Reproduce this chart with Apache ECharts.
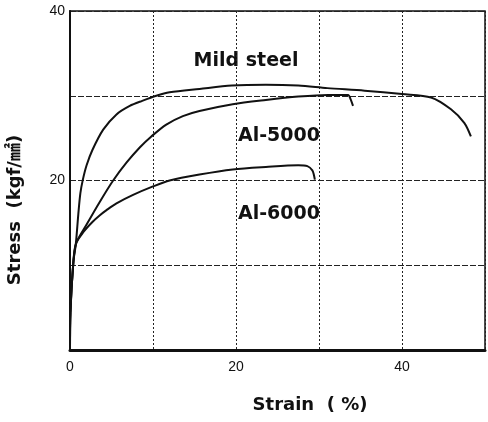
<!DOCTYPE html>
<html>
<head>
<meta charset="utf-8">
<script src="https://cdn.jsdelivr.net/npm/echarts@6/dist/echarts.min.js"></script>
<style>
  html, body { margin: 0; padding: 0; background: #fff; }
  #chart { width: 488px; height: 422px; }
</style>
</head>
<body>
<div id="chart"></div>
<script>
// strain (%) vs stress (kgf/mm2)
const mildSteel = [
  [0, 0], [0.05, 4.4], [0.4, 10.3], [0.7, 12.5], [1.0, 16.0], [1.25, 18.5],
  [1.55, 20.1], [2.0, 21.8], [2.7, 23.6], [4.0, 26.0], [5.6, 27.8], [7.2, 28.8],
  [8.7, 29.4], [10.4, 30.0], [12.0, 30.4], [15.6, 30.8], [19.5, 31.2],
  [23.6, 31.3], [27.5, 31.2], [31.0, 30.9], [35.5, 30.6], [40.0, 30.2],
  [43.5, 29.8], [45.9, 28.4], [47.5, 26.8], [48.3, 25.2]
];
const al5000 = [
  [0, 0], [0.05, 4.4], [0.4, 10.3], [0.7, 12.5], [2.0, 14.8], [3.6, 17.5],
  [5.2, 20.0], [6.8, 22.1], [8.4, 23.9], [9.8, 25.2], [11.6, 26.6],
  [13.6, 27.6], [15.6, 28.2], [19.6, 29.0], [23.6, 29.5], [27.5, 29.9],
  [31.1, 30.1], [33.5, 30.1], [33.8, 29.6], [34.1, 28.8]
];
const al6000 = [
  [0, 0], [0.05, 4.4], [0.4, 10.3], [0.75, 12.6], [1.6, 13.9], [2.7, 15.1],
  [3.6, 15.9], [4.4, 16.5], [5.6, 17.3], [7.6, 18.3], [10.0, 19.3],
  [12.0, 20.0], [15.6, 20.7], [19.6, 21.3], [23.6, 21.6], [27.5, 21.8],
  [28.6, 21.7], [29.2, 21.2], [29.4, 20.6], [29.5, 20.1]
];
const xTickLabels = [0, 20, 40];
const yTickLabels = [20, 40];
const seriesNames = ['Mild steel', 'Al-5000', 'Al-6000'];

const chart = echarts.init(document.getElementById('chart'));

function curve(name, data) {
  return {
    name: name,
    type: 'line',
    data: data,
    smooth: 0.3,
    showSymbol: false,
    lineStyle: { color: '#111', width: 2 }
  };
}

const labelFont = { fontFamily: 'DejaVu Sans', fontWeight: 'bold', fontSize: 19, fill: '#111' };

chart.setOption({
  backgroundColor: '#fff',
  animation: false,
  grid: {
    left: 70, right: 1, top: 11, bottom: 72,
    show: true, borderColor: '#111', borderWidth: 1.5
  },
  xAxis: {
    type: 'value',
    min: 0, max: 50, interval: 10,
    axisLine: { lineStyle: { color: '#111', width: 3 } },
    axisTick: { show: false },
    axisLabel: {
      color: '#111', fontFamily: 'Liberation Sans', fontSize: 14, margin: 10,
      formatter: v => (xTickLabels.indexOf(v) >= 0 ? String(v) : '')
    },
    splitLine: { lineStyle: { color: '#222', width: 1, type: [2, 2] } }
  },
  yAxis: {
    type: 'value',
    min: 0, max: 40, interval: 10,
    axisLine: { show: true, lineStyle: { color: '#111', width: 2 } },
    axisTick: { show: false },
    axisLabel: {
      color: '#111', fontFamily: 'Liberation Sans', fontSize: 14, margin: 5,
      formatter: v => (yTickLabels.indexOf(v) >= 0 ? String(v) : '')
    },
    splitLine: { lineStyle: { color: '#222', width: 1.2, type: [6, 2] } }
  },
  series: [
    curve(seriesNames[0], mildSteel),
    curve(seriesNames[1], al5000),
    curve(seriesNames[2], al6000)
  ],
  graphic: [
    { type: 'text', x: 246, y: 61, style: Object.assign({ text: seriesNames[0], align: 'center', verticalAlign: 'middle' }, labelFont) },
    { type: 'text', x: 279, y: 136, style: Object.assign({ text: seriesNames[1], align: 'center', verticalAlign: 'middle' }, labelFont) },
    { type: 'text', x: 279, y: 214, style: Object.assign({ text: seriesNames[2], align: 'center', verticalAlign: 'middle' }, labelFont) },
    {
      type: 'text', x: 310, y: 405,
      style: { text: 'Strain  ( %)', align: 'center', verticalAlign: 'middle',
        fontFamily: 'DejaVu Sans', fontWeight: 'bold', fontSize: 18, fill: '#111' }
    },
    {
      type: 'text', x: 15, y: 210, rotation: Math.PI / 2,
      style: { text: 'Stress  (kgf/㎟)', align: 'center', verticalAlign: 'middle',
        fontFamily: 'DejaVu Sans, Noto Sans CJK JP', fontWeight: 'bold', fontSize: 18, fill: '#111' }
    }
  ]
});
</script>
</body>
</html>
